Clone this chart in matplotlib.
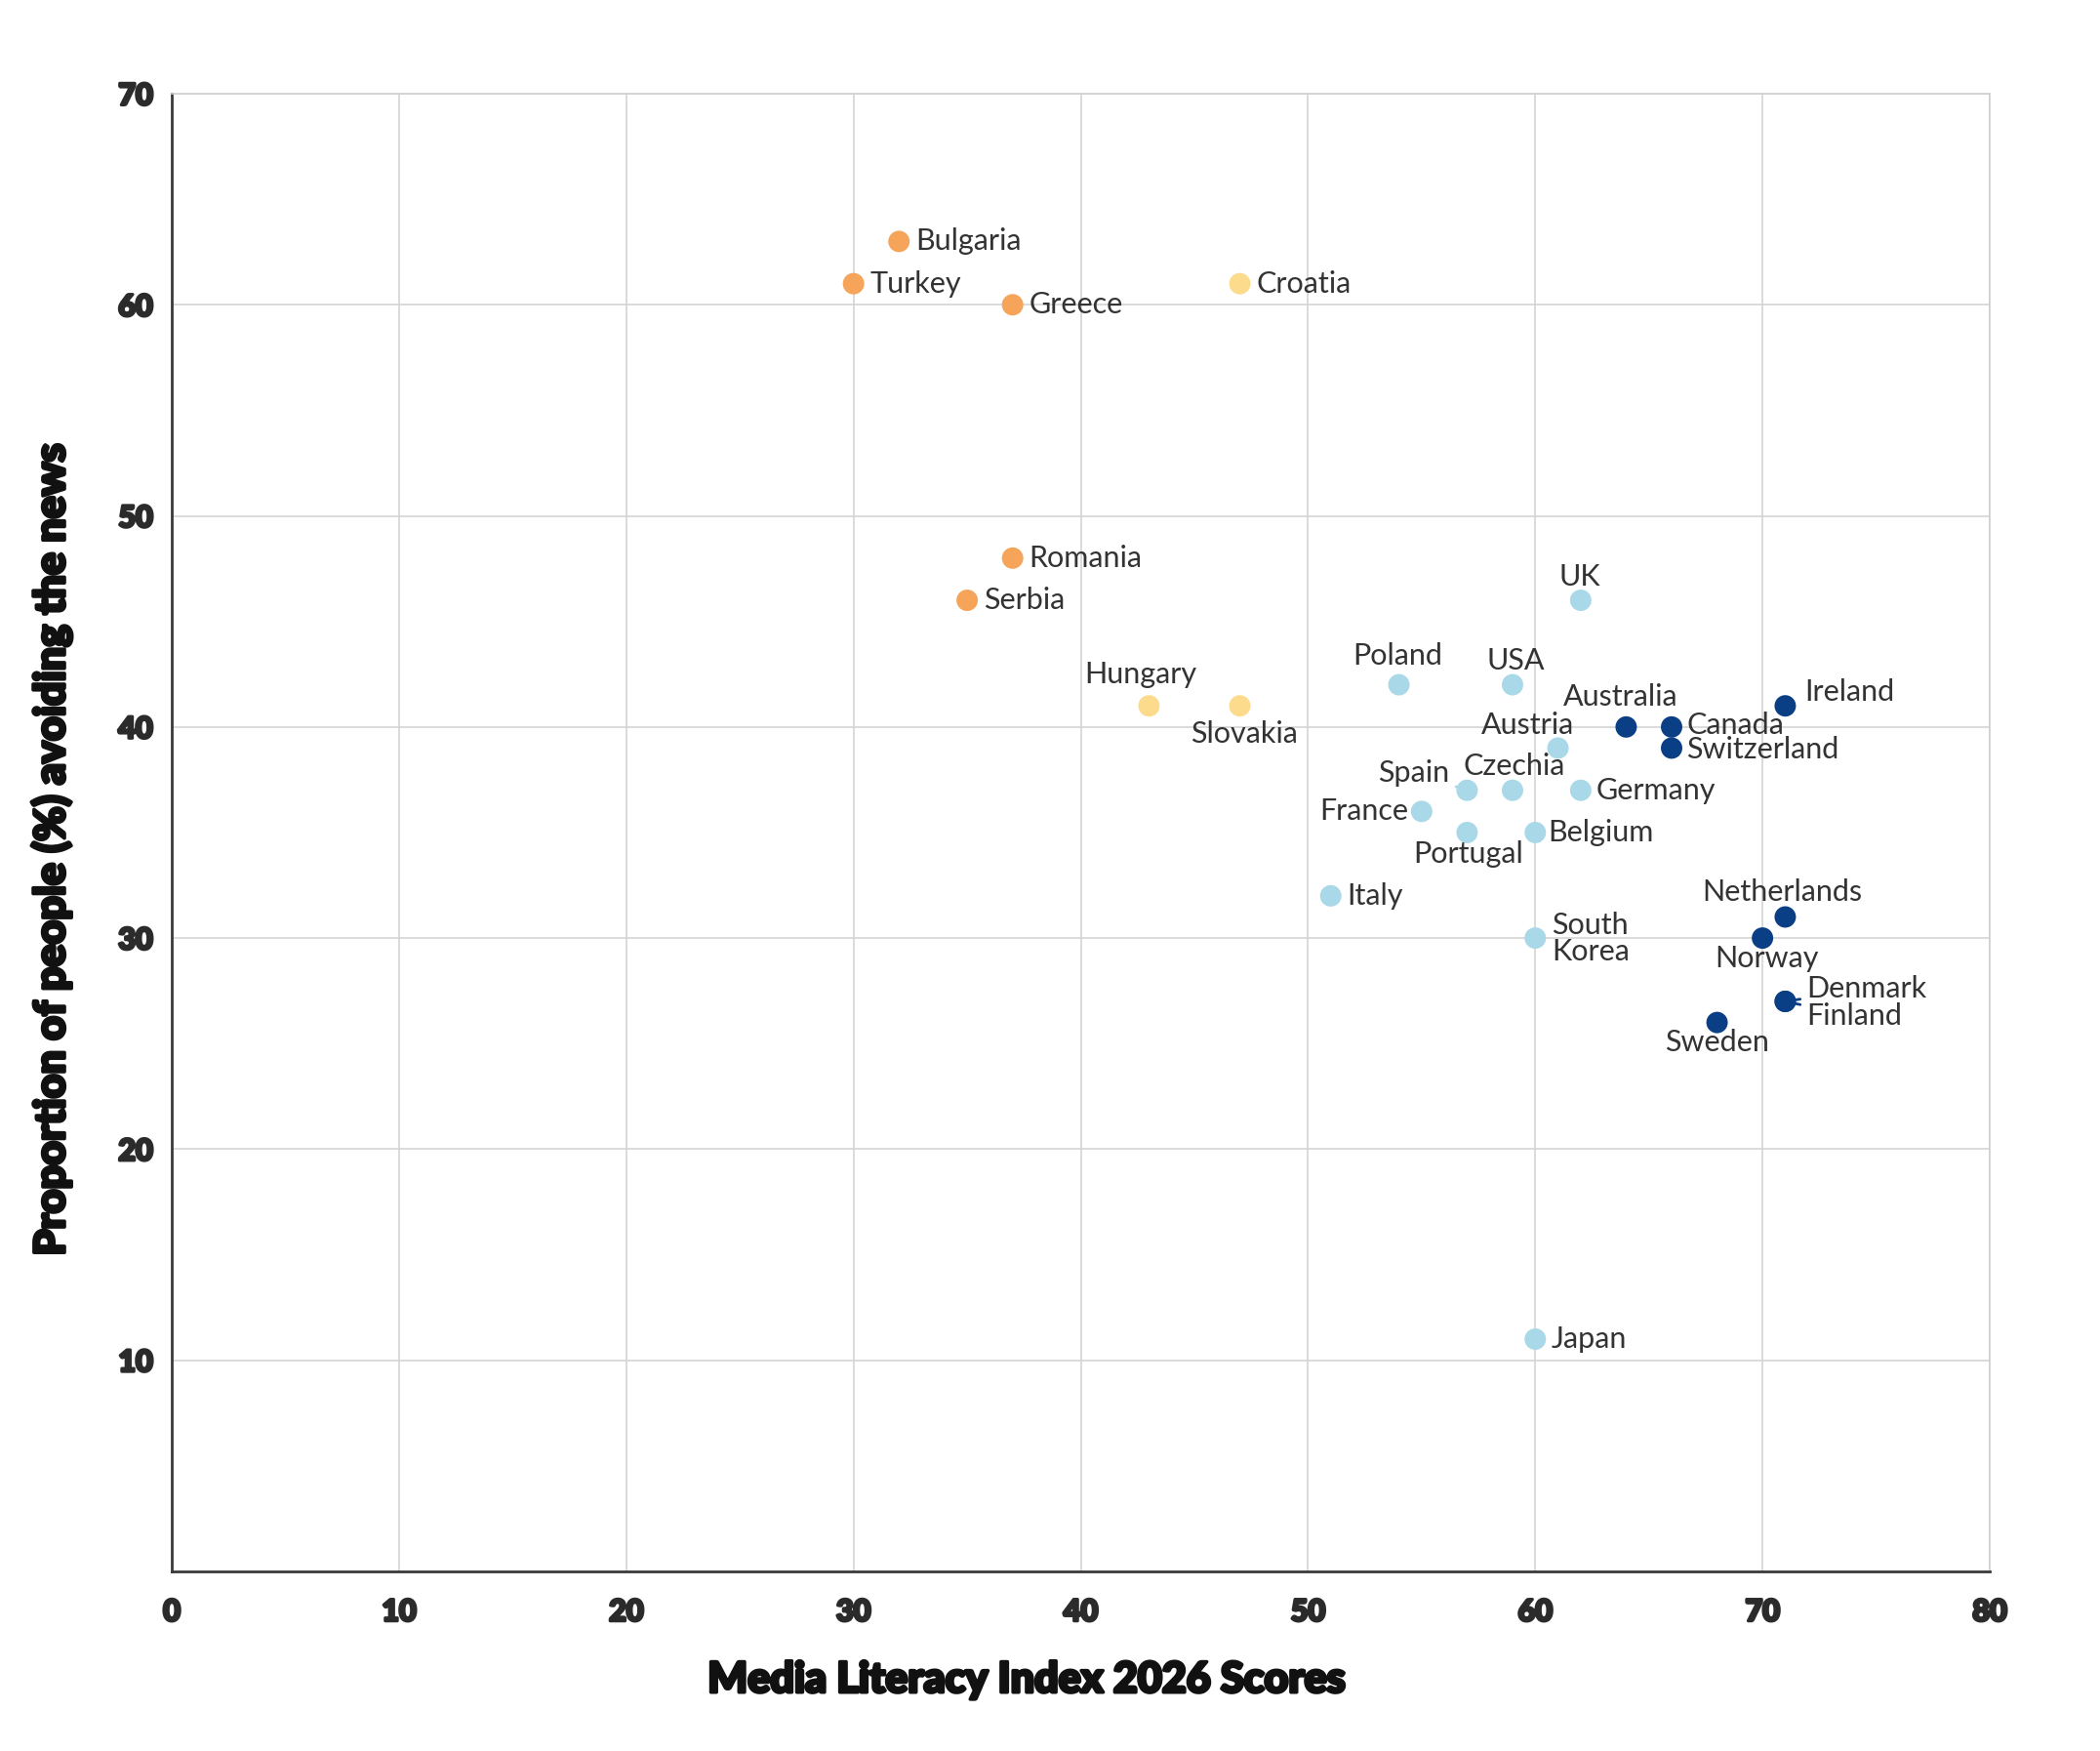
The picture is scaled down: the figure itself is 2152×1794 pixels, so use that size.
import matplotlib.pyplot as plt
import matplotlib.patheffects as pe
from matplotlib import font_manager

# Data: country, media literacy score (x), % avoiding news (y), group
countries = ["Bulgaria", "Turkey", "Greece", "Romania", "Serbia",
             "Croatia", "Hungary", "Slovakia",
             "Poland", "USA", "UK", "Austria", "Spain", "Czechia", "Germany",
             "France", "Portugal", "Belgium", "Italy", "South\nKorea", "Japan",
             "Australia", "Canada", "Switzerland", "Ireland", "Netherlands",
             "Norway", "Denmark", "Finland", "Sweden"]
mli_score = [32, 30, 37, 37, 35,
             47, 43, 47,
             54, 59, 62, 61, 57, 59, 62,
             55, 57, 60, 51, 60, 60,
             64, 66, 66, 71, 71,
             70, 71, 71, 68]
avoid_pct = [63, 61, 60, 48, 46,
             61, 41, 41,
             42, 42, 46, 39, 37, 37, 37,
             36, 35, 35, 32, 30, 11,
             40, 40, 39, 41, 31,
             30, 27, 27, 26]
group = ["orange"] * 5 + ["yellow"] * 3 + ["light"] * 13 + ["navy"] * 9

colors = {"orange": "#F5A45A", "yellow": "#FCDC8C", "light": "#A9D8E8", "navy": "#0B3F85"}

# label placement: (dx, dy) in points, ha
label_pos = {
    "Bulgaria": (12, 0, "left"), "Turkey": (12, 0, "left"), "Greece": (12, 0, "left"),
    "Romania": (12, 0, "left"), "Serbia": (12, 0, "left"), "Croatia": (12, 0, "left"),
    "Hungary": (-6, 23, "center"), "Slovakia": (3, -21, "center"),
    "Poland": (-1, 21, "center"), "USA": (2, 18, "center"), "UK": (-1, 17, "center"),
    "Australia": (-4, 22, "center"), "Canada": (11, 1, "left"),
    "Switzerland": (11, -1, "left"), "Ireland": (14, 10, "left"),
    "Austria": (12, 17, "right"), "Spain": (-13, 13, "right"), "Czechia": (1, 18, "center"),
    "Germany": (11, 0, "left"), "France": (-10, 0, "right"), "Portugal": (1, -16, "center"),
    "Belgium": (9, 0, "left"), "Italy": (12, 0, "left"), "South\nKorea": (12, 0, "left"),
    "Japan": (12, 0, "left"), "Netherlands": (-2, 18, "center"), "Norway": (3, -15, "center"),
    "Denmark": (16, 9, "left"), "Finland": (16, -11, "left"), "Sweden": (0, -15, "center"),
}
leaders = {"Austria", "Spain", "Czechia", "Denmark", "Finland"}

available = {f.name for f in font_manager.fontManager.ttflist}
label_font = "Lato" if "Lato" in available else "DejaVu Sans"


def heavy(color, w):
    return [pe.withStroke(linewidth=w, foreground=color)]


fig = plt.figure(figsize=(21.52, 17.94), dpi=100)
ax = fig.add_axes([0.0818, 0.1026, 0.8657, 0.8439])

ax.set_xlim(0, 80)
ax.set_ylim(0, 70)
ax.set_xticks(range(0, 81, 10))
ax.set_yticks(range(10, 71, 10))
ax.grid(True, color="#d4d4d4", linewidth=1.2)
ax.set_axisbelow(True)

for side in ["top", "right"]:
    ax.spines[side].set_color("#cfcfcf")
    ax.spines[side].set_linewidth(1.2)
for side in ["left", "bottom"]:
    ax.spines[side].set_color("#3a3a3a")
    ax.spines[side].set_linewidth(2)

ax.tick_params(axis="x", length=0, pad=20)
ax.tick_params(axis="y", length=0, pad=14)
for lbl in ax.get_xticklabels() + ax.get_yticklabels():
    lbl.set_fontfamily(label_font)
    lbl.set_fontweight("black")
    lbl.set_fontsize(22)
    lbl.set_color("#2b2b2b")
    lbl.set_path_effects(heavy("#2b2b2b", 2.2))

ax.scatter(mli_score, avoid_pct, s=250, c=[colors[g] for g in group],
           edgecolors="none", zorder=3)

for name, x, y, g in zip(countries, mli_score, avoid_pct, group):
    dx, dy, ha = label_pos[name]
    arrow = None
    if name in leaders:
        arrow = dict(arrowstyle="-", color=colors[g], lw=2, shrinkA=3, shrinkB=5)
    ax.annotate(name, (x, y), xytext=(dx, dy), textcoords="offset points",
                ha=ha, va="center", fontsize=22, color="#333333",
                fontfamily=label_font, fontweight="normal",
                linespacing=0.95, arrowprops=arrow, zorder=4)

ax.set_xlabel("Media Literacy Index 2026 Scores", fontsize=31, fontweight="black",
              fontfamily=label_font, color="#111111",
              path_effects=heavy("#111111", 2.5))
ax.set_ylabel("Proportion of people (%) avoiding the news", fontsize=31,
              fontweight="black", fontfamily=label_font, color="#111111",
              path_effects=heavy("#111111", 2.5))
ax.xaxis.set_label_coords(0.47, -0.060)
ax.yaxis.set_label_coords(-0.055, 0.488)

fig.savefig("out.png", dpi=100, facecolor="white")
